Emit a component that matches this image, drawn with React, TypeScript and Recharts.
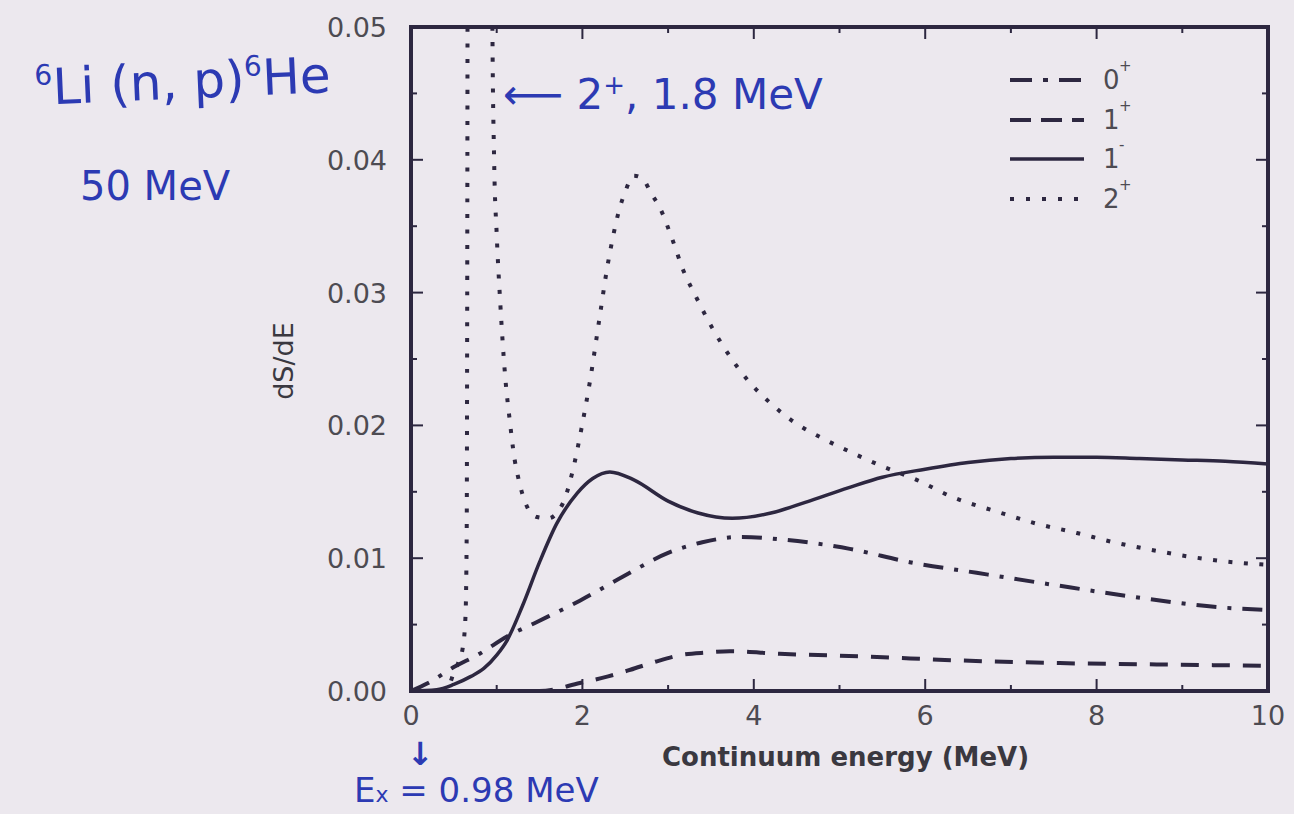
import React from 'react'
import { Legend, Line, LineChart, XAxis, YAxis } from 'recharts'

// continuum energy (MeV) / dS/dE pairs for each multipole
const energy0p = [0, 0.2, 0.5, 0.8, 1.12, 1.47, 1.97, 2.47, 3.0, 3.4, 3.84, 4.34, 5.12, 5.82, 6.6, 7.49, 8.42, 9.44, 10]
const dsde0p = [0, 0.0006, 0.0018, 0.0028, 0.0041, 0.0052, 0.0068, 0.0086, 0.0104, 0.0112, 0.0116, 0.0114, 0.0107, 0.0097, 0.0089, 0.008, 0.0071, 0.0063, 0.0061]

const energy1p = [0, 1.5, 1.97, 2.3, 2.56, 2.85, 3.14, 3.45, 3.72, 4.3, 5.3, 6.4, 7.57, 8.7, 10]
const dsde1p = [0, 0, 0.0006, 0.0011, 0.0016, 0.0022, 0.0027, 0.0029, 0.003, 0.0028, 0.0026, 0.0023, 0.0021, 0.002, 0.0019]

const energy1m = [0, 0.3, 0.5, 0.7, 0.85, 1.0, 1.12, 1.3, 1.5, 1.7, 1.94, 2.12, 2.32, 2.6, 3.0, 3.35, 3.75, 4.2, 4.6, 5.1, 5.5, 6.0, 6.5, 7.0, 7.5, 8.0, 8.5, 9.0, 9.5, 10]
const dsde1m = [0, 0.0001, 0.0005, 0.0011, 0.0017, 0.0027, 0.0038, 0.0064, 0.0097, 0.0126, 0.0149, 0.016, 0.0165, 0.0159, 0.0143, 0.0134, 0.013, 0.0134, 0.0142, 0.0153, 0.0161, 0.0167, 0.0172, 0.0175, 0.0176, 0.0176, 0.0175, 0.0174, 0.0173, 0.0171]

// 2+ has the narrow 1.8 MeV resonance that runs off the top of the frame
const energy2p = [0, 0.4, 0.45, 0.5, 0.55, 0.6, 0.635, 0.65, 0.656, 0.665, 0.8, 0.935, 0.95, 0.97, 1.0, 1.04, 1.1, 1.15, 1.21, 1.25, 1.36, 1.47, 1.6, 1.77, 1.88, 1.99, 2.09, 2.2, 2.29, 2.36, 2.42, 2.5, 2.6, 2.7, 2.8, 2.91, 3.05, 3.17, 3.34, 3.51, 3.7, 3.93, 4.19, 4.48, 4.81, 5.16, 5.47, 5.9, 6.32, 6.84, 7.3, 7.77, 8.2, 8.66, 9.1, 9.59, 10]
const dsde2p = [0, 0, 0.0005, 0.0014, 0.0021, 0.0031, 0.0055, 0.012, 0.03, 0.08, 0.25, 0.08, 0.05, 0.04, 0.0344, 0.0294, 0.0236, 0.0205, 0.0174, 0.0161, 0.0138, 0.0131, 0.013, 0.0141, 0.0164, 0.0198, 0.0234, 0.0281, 0.0319, 0.0343, 0.036, 0.0376, 0.0388, 0.0386, 0.0375, 0.0363, 0.034, 0.0318, 0.0295, 0.0274, 0.0254, 0.0234, 0.0217, 0.0202, 0.019, 0.0179, 0.017, 0.0159, 0.0146, 0.0135, 0.0126, 0.0119, 0.0112, 0.0106, 0.0101, 0.0097, 0.0095]

const xTicks = [0, 1, 2, 3, 4, 5, 6, 7, 8, 9, 10]
const yTicks = [0, 0.005, 0.01, 0.015, 0.02, 0.025, 0.03, 0.035, 0.04, 0.045, 0.05]

const INK = '#2d2740'
const LABEL = '#4d4b52'
const NOTE = '#2c3ab3'
const BG = '#ece8ee'
const FONT = '"DejaVu Sans", sans-serif'
const MAJOR = 12
const MINOR = 6

const zip = (xs: number[], ys: number[]) => xs.map((e, i) => ({ e, v: ys[i] }))

const series = [
  { key: '0p', j: '0', parity: '+', data: zip(energy0p, dsde0p), dash: '20 11 4 11', legendDash: '22 11 5 11', width: 4 },
  { key: '1p', j: '1', parity: '+', data: zip(energy1p, dsde1p), dash: '18 13', legendDash: '21 10', width: 4 },
  { key: '1m', j: '1', parity: '-', data: zip(energy1m, dsde1m), dash: undefined, legendDash: undefined, width: 3.5 },
  { key: '2p', j: '2', parity: '+', data: zip(energy2p, dsde2p), dash: '4 11.5', legendDash: '4 12', width: 4 },
]

const isMajorY = (v: number) => Math.round(v * 1000) % 10 === 0

function BottomTick({ x, y, payload }: any) {
  const major = payload.value % 2 === 0
  return (
    <g>
      <line x1={x} x2={x} y1={y} y2={y - (major ? MAJOR : MINOR)} stroke={INK} strokeWidth={2} />
      {major && (
        <text x={x} y={y + 34} textAnchor="middle" fill={LABEL} fontSize={27} fontFamily={FONT}>
          {payload.value}
        </text>
      )}
    </g>
  )
}

function TopTick({ x, y, payload }: any) {
  const major = payload.value % 2 === 0
  return <line x1={x} x2={x} y1={y} y2={y + (major ? MAJOR : MINOR)} stroke={INK} strokeWidth={2} />
}

function LeftTick({ x, y, payload }: any) {
  const major = isMajorY(payload.value)
  return (
    <g>
      <line x1={x} x2={x + (major ? MAJOR : MINOR)} y1={y} y2={y} stroke={INK} strokeWidth={2} />
      {major && (
        <text x={x - 24} y={y + 10} textAnchor="end" fill={LABEL} fontSize={27} fontFamily={FONT}>
          {payload.value.toFixed(2)}
        </text>
      )}
    </g>
  )
}

function RightTick({ x, y, payload }: any) {
  const major = isMajorY(payload.value)
  return <line x1={x} x2={x - (major ? MAJOR : MINOR)} y1={y} y2={y} stroke={INK} strokeWidth={2} />
}

function XTitle({ viewBox }: any) {
  return (
    <text x={viewBox.x + viewBox.width / 2 + 6} y={viewBox.y + 75} textAnchor="middle" fill="#3a3840" fontSize={26} fontWeight="bold" fontFamily={FONT}>
      Continuum energy (MeV)
    </text>
  )
}

function YTitle({ viewBox }: any) {
  const cx = 283
  const cy = viewBox.y + viewBox.height / 2 + 2
  return (
    <text x={cx} y={cy} transform={`rotate(-90 ${cx} ${cy})`} textAnchor="middle" dominantBaseline="central" fill="#3a3840" fontSize={27} fontFamily={FONT}>
      dS/dE
    </text>
  )
}

function MultipoleLegend() {
  return (
    <div style={{ fontFamily: FONT, color: LABEL }}>
      {series.map((s) => (
        <div key={s.key} style={{ display: 'flex', alignItems: 'center', height: 39.7 }}>
          <svg width={74} height={8}>
            <line x1={0} x2={74} y1={4} y2={4} stroke={INK} strokeWidth={s.width} strokeDasharray={s.legendDash} />
          </svg>
          <span style={{ marginLeft: 19, fontSize: 26, lineHeight: 1, position: 'relative' }}>
            {s.j}
            <span style={{ position: 'absolute', left: 16, top: -8, fontSize: 15 }}>{s.parity}</span>
          </span>
        </div>
      ))}
    </div>
  )
}

const note: React.CSSProperties = { position: 'absolute', color: NOTE, fontFamily: FONT, whiteSpace: 'nowrap', lineHeight: 1 }
const frame = { stroke: INK, strokeWidth: 4, strokeLinecap: 'square' as const }

export default function App() {
  return (
    <div style={{ position: 'absolute', left: 0, top: 0, width: 1294, height: 814, background: BG, overflow: 'hidden' }}>
      <LineChart width={1294} height={814} data={series[0].data} margin={{ top: 26, right: 25, left: 0, bottom: 0 }}>
        <XAxis
          xAxisId="b" type="number" dataKey="e" domain={[0, 10]} ticks={xTicks} interval={0}
          height={123} tickSize={0} tickMargin={0} tickLine={false} tick={<BottomTick />}
          axisLine={frame} label={<XTitle />}
        />
        <XAxis
          xAxisId="t" orientation="top" type="number" dataKey="e" domain={[0, 10]} ticks={xTicks} interval={0}
          height={1} tickSize={0} tickMargin={0} tickLine={false} tick={<TopTick />}
          axisLine={frame}
        />
        <YAxis
          yAxisId="l" type="number" domain={[0, 0.05]} allowDataOverflow ticks={yTicks} interval={0}
          width={411} tickSize={0} tickMargin={0} tickLine={false} tick={<LeftTick />}
          axisLine={frame} label={<YTitle />}
        />
        <YAxis
          yAxisId="r" orientation="right" type="number" domain={[0, 0.05]} allowDataOverflow ticks={yTicks} interval={0}
          width={1} tickSize={0} tickMargin={0} tickLine={false} tick={<RightTick />}
          axisLine={frame}
        />
        {series.map((s) => (
          <Line
            key={s.key}
            xAxisId="b"
            yAxisId="l"
            data={s.data}
            dataKey="v"
            type="monotone"
            stroke={INK}
            strokeWidth={s.width}
            strokeDasharray={s.dash}
            dot={false}
            activeDot={false}
            isAnimationActive={false}
          />
        ))}
        {/* invisible carrier so the top / right frame axes get a domain */}
        <Line xAxisId="t" yAxisId="r" data={series[2].data} dataKey="v" stroke="none" dot={false} activeDot={false} legendType="none" isAnimationActive={false} />
        <Legend
          layout="vertical"
          align="center"
          verticalAlign="middle"
          content={<MultipoleLegend />}
          wrapperStyle={{ left: 1010, top: 60, width: 150 }}
        />
      </LineChart>

      {/* pen notes on the figure */}
      <div style={{ ...note, left: 36, top: 62, fontSize: 50, transform: 'rotate(-2.5deg)', transformOrigin: 'left bottom' }}>
        <span style={{ fontSize: 28, verticalAlign: 20 }}>6</span>Li (n, p)<span style={{ fontSize: 28, verticalAlign: 20 }}>6</span>He
      </div>
      <div style={{ ...note, left: 80, top: 166, fontSize: 40 }}>50 MeV</div>
      <div style={{ ...note, left: 503, top: 72, fontSize: 42 }}>
        ⟵ 2<span style={{ fontSize: 26, verticalAlign: 15 }}>+</span>, 1.8 MeV
      </div>
      <div style={{ ...note, left: 407, top: 738, fontSize: 32, fontWeight: 'bold' }}>↓</div>
      <div style={{ ...note, left: 354, top: 773, fontSize: 34 }}>
        E<span style={{ fontSize: 22 }}>x</span> = 0.98 MeV
      </div>
    </div>
  )
}
